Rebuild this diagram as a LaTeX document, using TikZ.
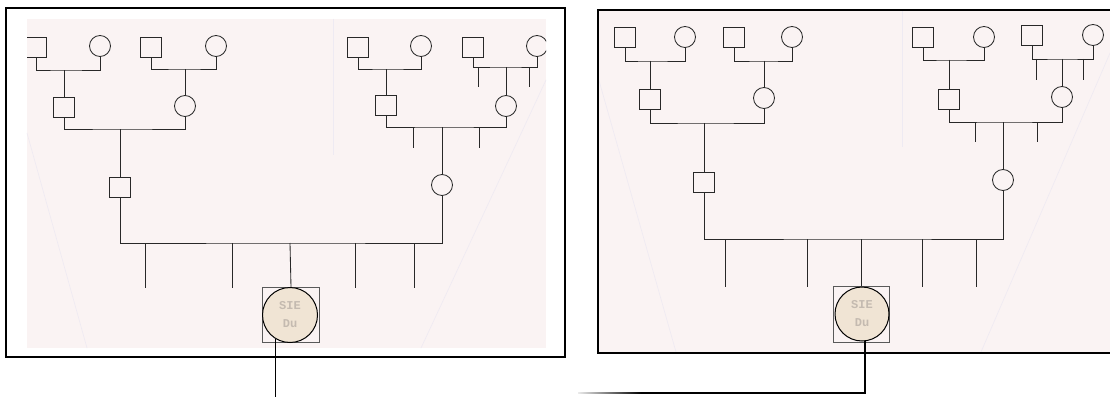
\documentclass[tikz,border=0pt]{standalone}
\usepackage{fontspec}
\newfontfamily\monof{Liberation Mono}
\definecolor{scanbg}{RGB}{250,243,243}
\definecolor{pedline}{RGB}{40,40,40}
\definecolor{beige}{RGB}{240,228,212}
\definecolor{sietext}{RGB}{196,186,176}
\definecolor{faint}{RGB}{238,234,242}
\begin{document}
\begin{tikzpicture}[x=1pt,y=-1pt,
  male/.style={draw=pedline, line width=0.85pt, rectangle, minimum width=21pt, minimum height=20pt, inner sep=0pt},
  female/.style={draw=pedline, line width=0.85pt, circle, minimum size=21pt, inner sep=0pt},
  link/.style={draw=pedline, line width=0.85pt},
  probandbox/.style={draw=black!65, line width=0.7pt, rectangle, minimum width=57pt, minimum height=55pt, inner sep=0pt},
  probandcirc/.style={draw=black, line width=1pt, circle, fill=beige, minimum size=55pt, inner sep=0pt,
     font=\monof\bfseries\fontsize{12}{18}\selectfont, text=sietext, align=center},
  panelframe/.style={draw=black, line width=2pt},
  conn/.style={draw=black, line width=1.8pt},
  scanline/.style={draw=faint, line width=0.6pt}
]
\useasboundingbox (0,0) rectangle (1110,396);
\clip (0,0) rectangle (1110,396);
\fill[white] (0,0) rectangle (1110,396);

% ---------------- backgrounds ----------------
\fill[scanbg] (27,19) rectangle (546,348);
\fill[scanbg] (599,11) rectangle (1112,352);
\draw[scanline] (27,133) -- (87,348);
\draw[scanline] (333,19) -- (333,155);
\draw[scanline] (546,80) -- (421,348);
\draw[scanline] (598,77) -- (676,352);
\draw[scanline] (902,11) -- (902,147);
\draw[scanline] (1110,53) -- (981,352);

% ================= LEFT PEDIGREE =================
\begin{scope}
\clip (27,19) rectangle (546,348);
\node[male]   (Lsq1) at (36,47)  {};
\node[female] (Lc1)  at (100,46) {};
\node[male]   (Lsq2) at (151,47) {};
\node[female] (Lc2)  at (216,46) {};
\node[male]   (Lsq3) at (358,47) {};
\node[female] (Lc3)  at (421,46) {};
\node[male]   (Lsq4) at (473,47) {};
\node[female] (Lc4)  at (537,46) {};
\node[male]   (LsqA) at (64,107) {};
\node[female] (LcB)  at (185,106) {};
\node[male]   (LsqE) at (386,105) {};
\node[female] (LcF)  at (506,106) {};
\node[male]   (LsqC) at (120,187) {};
\node[female] (LcD)  at (442,185) {};
\node[probandbox] (Lbox) at (291,315) {};
\node[probandcirc] (Lsie) at (290,315) {SIE\\Du};

\coordinate (Lm1) at (64,70);
\coordinate (Lm2) at (185,69);
\coordinate (Lm3) at (120,129);
\coordinate (Lm4) at (386,69);
\coordinate (Lm5) at (506,67);
\coordinate (Lm6) at (442,127);
\coordinate (Lm7) at (290,243);

\draw[link] (Lsq1.south) |- (Lm1) -| (Lc1.south);
\draw[link] (Lm1) -- (LsqA.north);
\draw[link] (Lsq2.south) |- (Lm2) -| (Lc2.south);
\draw[link] (Lm2) -- (LcB.north);
\draw[link] (LsqA.south) |- (Lm3) -| (LcB.south);
\draw[link] (Lm3) -- (LsqC.north);

\draw[link] (Lsq3.south) |- (Lm4) -| (Lc3.south);
\draw[link] (Lm4) -- (LsqE.north);
\draw[link] (Lsq4.south) |- (Lm5) -| (Lc4.south);
\draw[link] (Lm5) -- (LcF.north);
\coordinate (Lt1) at (478,67); \coordinate (Lt2) at (529,67);
\draw[link] (Lt1) -- ++(0,20);
\draw[link] (Lt2) -- ++(0,20);
\draw[link] (LsqE.south) |- (Lm6) -| (LcF.south);
\draw[link] (Lm6) -- (LcD.north);
\coordinate (Lt3) at (413,127); \coordinate (Lt4) at (479,127);
\draw[link] (Lt3) -- ++(0,21);
\draw[link] (Lt4) -- ++(0,21);

\draw[link] (LsqC.south) |- (Lm7) -| (LcD.south);
\draw[link] (Lm7) -- (Lbox.north);
\foreach \x/\n in {145/a,232/b,355/c,414/d}{
  \coordinate (Lk\n) at (\x,243);
  \draw[link] (Lk\n) -- ++(0,45);
}
\end{scope}

% ================= RIGHT PEDIGREE =================
\node[male]   (Rsq1) at (625,37)  {};
\node[female] (Rc1)  at (685,37)  {};
\node[male]   (Rsq2) at (734,37)  {};
\node[female] (Rc2)  at (792,37)  {};
\node[male]   (Rsq3) at (923,37)  {};
\node[female] (Rc3)  at (984,37)  {};
\node[male]   (Rsq4) at (1032,35) {};
\node[female] (Rc4)  at (1093,35) {};
\node[male]   (RsqA) at (650,99)  {};
\node[female] (RcB)  at (764,98)  {};
\node[male]   (RsqE) at (949,99)  {};
\node[female] (RcF)  at (1062,97) {};
\node[male]   (RsqC) at (704,182) {};
\node[female] (RcD)  at (1003,180) {};
\node[probandbox, minimum width=56pt, minimum height=56pt] (Rbox) at (861,314) {};
\node[probandcirc, minimum size=54pt] (Rsie) at (862,314) {SIE\\Du};

\coordinate (Rm1) at (650,61);
\coordinate (Rm2) at (764,61);
\coordinate (Rm3) at (704,123);
\coordinate (Rm4) at (949,60);
\coordinate (Rm5) at (1062,59);
\coordinate (Rm6) at (1003,122);
\coordinate (Rm7) at (861,239);

\draw[link] (Rsq1.south) |- (Rm1) -| (Rc1.south);
\draw[link] (Rm1) -- (RsqA.north);
\draw[link] (Rsq2.south) |- (Rm2) -| (Rc2.south);
\draw[link] (Rm2) -- (RcB.north);
\draw[link] (RsqA.south) |- (Rm3) -| (RcB.south);
\draw[link] (Rm3) -- (RsqC.north);

\draw[link] (Rsq3.south) |- (Rm4) -| (Rc3.south);
\draw[link] (Rm4) -- (RsqE.north);
\draw[link] (Rsq4.south) |- (Rm5) -| (Rc4.south);
\draw[link] (Rm5) -- (RcF.north);
\coordinate (Rt1) at (1036,59); \coordinate (Rt2) at (1083,59);
\draw[link] (Rt1) -- ++(0,21);
\draw[link] (Rt2) -- ++(0,21);
\draw[link] (RsqE.south) |- (Rm6) -| (RcF.south);
\draw[link] (Rm6) -- (RcD.north);
\coordinate (Rt3) at (975,122); \coordinate (Rt4) at (1037,122);
\draw[link] (Rt3) -- ++(0,20);
\draw[link] (Rt4) -- ++(0,20);

\draw[link] (RsqC.south) |- (Rm7) -| (RcD.south);
\draw[link] (Rm7) -- (Rbox.north);
\foreach \x/\n in {725/a,807/b,922/c,976/d}{
  \coordinate (Rk\n) at (\x,239);
  \draw[link] (Rk\n) -- ++(0,48);
}

% ---------------- frames ----------------
\draw[panelframe] (6,8) rectangle (565,357);
\draw[panelframe, line width=1.6pt] (598,10) rectangle (1125,353);

% ---------------- connectors ----------------
\coordinate (E1) at (276,398);
\draw[conn] (Lsie.-121) -- (Lsie.-121 |- E1);
\coordinate (E2) at (640,393);
\draw[conn] (Rsie.-84) |- (E2);
\shade[left color=black!8, right color=black] (578,392.1) rectangle (641,393.9);
\end{tikzpicture}
\end{document}
